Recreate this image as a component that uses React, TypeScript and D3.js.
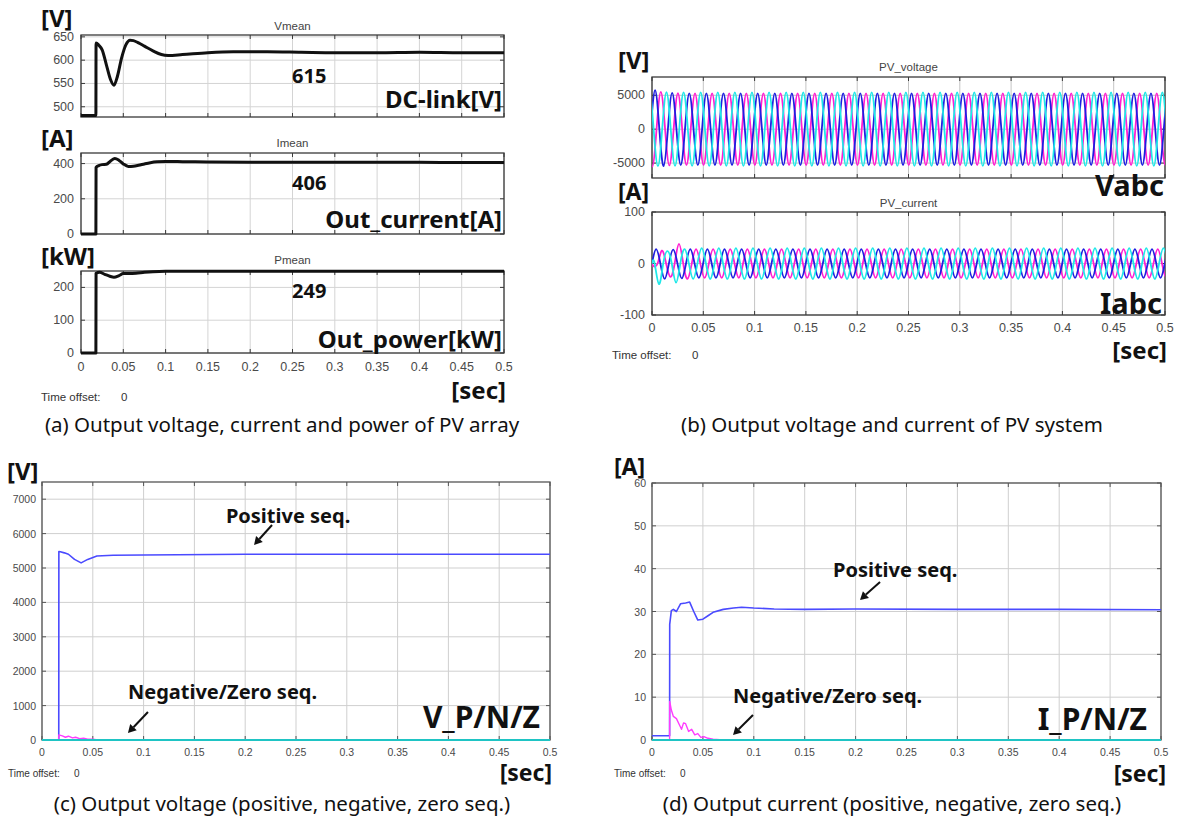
import React from "react";
import * as d3 from "d3";

// time axis shared by every scope
const timeTickLabels = ["0", "0.05", "0.1", "0.15", "0.2", "0.25", "0.3", "0.35", "0.4", "0.45", "0.5"];
const timeTicks = timeTickLabels.map(Number);

// (a) mean values of the PV array
const vmeanT = [0, 0.0176, 0.0178, 0.021, 0.025, 0.03, 0.035, 0.039, 0.043, 0.048, 0.053, 0.058, 0.062, 0.068, 0.075, 0.085, 0.095, 0.103, 0.12, 0.15, 0.18, 0.22, 0.26, 0.3, 0.35, 0.4, 0.45, 0.5];
const vmeanV = [481, 481, 637, 632, 622, 590, 558, 546, 565, 605, 633, 643, 642, 637, 630, 620, 612, 610, 612, 616, 618, 618, 617, 616, 616, 617, 616, 616];
const imeanT = [0, 0.0176, 0.0178, 0.021, 0.025, 0.03, 0.035, 0.04, 0.045, 0.05, 0.056, 0.062, 0.068, 0.075, 0.082, 0.09, 0.1, 0.12, 0.15, 0.2, 0.25, 0.3, 0.35, 0.4, 0.45, 0.5];
const imeanV = [0, 0, 378, 388, 394, 396, 415, 429, 418, 398, 384, 385, 390, 398, 405, 410, 412, 411, 409, 407, 407, 408, 407, 407, 406, 406];
const pmeanT = [0, 0.0176, 0.0178, 0.022, 0.028, 0.034, 0.039, 0.045, 0.05, 0.057, 0.065, 0.075, 0.085, 0.1, 0.2, 0.3, 0.4, 0.5];
const pmeanV = [0, 0, 243, 246, 240, 234, 231, 236, 242, 242, 243, 246, 248, 249, 249, 249, 249, 249];

// (b) three-phase waveforms: 60 Hz, first positive peak per phase, half-cycle amplitudes
const gridFreq = 60;
const phaseColors = ["#1f1fe0", "#ff1fd2", "#1fe8e8"];
const vFirstPeak = [0.003, 0.0086, 0.0141];
const vHalfAmps = [[5750, 5750, 5450, 5350], [5500, 5500, 5350, 5300], [5450, 5450, 5400]];
const vSteady = [5280, 5280, 5420];
const iFirstPeak = [0.004, 0.0096, 0.0151];
const iHalfAmps = [[28, 28, 30, 27, 29], [5, 25, 26, 38, 30], [40, 24, 37, 28, 30]];
const iSteady = [28, 28, 30];

// (c) sequence voltages
const vPosT = [0, 0.0165, 0.0166, 0.018, 0.022, 0.026, 0.032, 0.0385, 0.045, 0.054, 0.07, 0.1, 0.2, 0.3, 0.4, 0.5];
const vPosV = [0, 0, 5480, 5470, 5440, 5400, 5250, 5150, 5250, 5350, 5370, 5380, 5400, 5400, 5400, 5400];
const vNegT = [0, 0.0165, 0.0166, 0.02, 0.023, 0.026, 0.03, 0.033, 0.037, 0.041, 0.045, 0.05, 0.055, 0.5];
const vNegV = [0, 0, 150, 120, 80, 110, 60, 80, 40, 50, 25, 20, 0, 0];
const vZeroT = [0, 0.5];
const vZeroV = [0, 0];

// (d) sequence currents
const iPosT = [0, 0.0173, 0.0174, 0.019, 0.021, 0.024, 0.028, 0.033, 0.037, 0.041, 0.045, 0.05, 0.055, 0.06, 0.07, 0.08, 0.088, 0.1, 0.12, 0.15, 0.2, 0.3, 0.4, 0.5];
const iPosV = [1, 1, 27, 30.2, 30.5, 30, 31.8, 32, 32.2, 30, 28, 28.2, 29, 29.8, 30.5, 30.8, 31, 30.8, 30.6, 30.5, 30.6, 30.5, 30.5, 30.4];
const iNegT = [0, 0.0173, 0.0174, 0.019, 0.021, 0.024, 0.027, 0.029, 0.031, 0.033, 0.036, 0.039, 0.042, 0.045, 0.048, 0.051, 0.055, 0.06, 0.07, 0.5];
const iNegV = [0, 0, 9, 7, 5.5, 5, 3.5, 2.5, 4, 3.8, 2, 2.5, 1.2, 1.5, 0.6, 0.8, 0.4, 0.2, 0, 0];
const iZeroT = [0, 0.5];
const iZeroV = [0, 0];

const TICK_FONT = "'Liberation Sans', Arial, sans-serif";
const BOLD_FONT = "'Noto Sans', 'Open Sans', sans-serif";

type Series = { t: number[]; v: number[]; color: string; width: number; curve?: d3.CurveFactory };

// build the extremum/zero-crossing skeleton of one phase, drawn with a natural spline
function phasePoints(firstPeak: number, amps: number[], steady: number, fromZero: boolean) {
  const half = 1 / gridFreq / 2;
  const t: number[] = [];
  const v: number[] = [];
  if (fromZero) { t.push(0); v.push(0); }
  for (let k = -3; k <= 62; k++) {
    const tp = firstPeak + k * half;
    const a = k + 1 < 0 ? amps[0] : amps[k + 1] ?? steady;
    const sign = k % 2 === 0 ? 1 : -1;
    const tz = tp - half / 2;
    if (!fromZero || tz > 0.0005) { t.push(tz); v.push(0); }
    if (!fromZero || tp > 0.0005) { t.push(tp); v.push(sign * a); }
  }
  return { t, v };
}

type ScopeProps = {
  id: string;
  box: [number, number, number, number];
  yDomain: [number, number];
  yTicks: number[];
  series: Series[];
  title?: string;
  titleY?: number;
  xLabels?: boolean;
  xLabelDy: number;
  tickSize: number;
  yLabelGap: number;
  grid: string;
  border: string;
  annotate?: (x: d3.ScaleLinear<number, number>, y: d3.ScaleLinear<number, number>) => React.ReactNode;
};

function Scope(p: ScopeProps) {
  const [x0, y0, x1, y1] = p.box;
  const x = d3.scaleLinear().domain([0, 0.5]).range([x0, x1]);
  const y = d3.scaleLinear().domain(p.yDomain).range([y1, y0]);
  const path = (s: Series) =>
    d3.line<number>().x((_, i) => x(s.t[i])).y((d) => y(d)).curve(s.curve ?? d3.curveLinear)(s.v) || "";
  return (
    <g>
      <defs>
        <clipPath id={p.id}>
          <rect x={x0} y={y0 - 2} width={x1 - x0} height={y1 - y0 + 4} />
        </clipPath>
      </defs>
      <rect x={x0} y={y0} width={x1 - x0} height={y1 - y0} fill="#fff" />
      {timeTicks.map((t) => (
        <line key={"gx" + t} x1={x(t)} x2={x(t)} y1={y0} y2={y1} stroke={p.grid} strokeWidth={1} />
      ))}
      {p.yTicks.map((v) => (
        <line key={"gy" + v} x1={x0} x2={x1} y1={y(v)} y2={y(v)} stroke={p.grid} strokeWidth={1} />
      ))}
      {timeTicks.map((t) => (
        <g key={"tx" + t} stroke={p.border} strokeWidth={1}>
          <line x1={x(t)} x2={x(t)} y1={y1} y2={y1 - 4} />
          <line x1={x(t)} x2={x(t)} y1={y0} y2={y0 + 4} />
        </g>
      ))}
      {p.yTicks.map((v) => (
        <g key={"ty" + v} stroke={p.border} strokeWidth={1}>
          <line x1={x0} x2={x0 + 4} y1={y(v)} y2={y(v)} />
          <line x1={x1} x2={x1 - 4} y1={y(v)} y2={y(v)} />
        </g>
      ))}
      <rect x={x0} y={y0} width={x1 - x0} height={y1 - y0} fill="none" stroke={p.border} strokeWidth={1.3} />
      <g clipPath={`url(#${p.id})`}>
        {p.series.map((s, i) => (
          <path key={i} d={path(s)} fill="none" stroke={s.color} strokeWidth={s.width} strokeLinejoin="round" />
        ))}
      </g>
      {p.yTicks.map((v) => (
        <text key={"ly" + v} x={x0 - p.yLabelGap} y={y(v)} textAnchor="end" dominantBaseline="central"
          fontFamily={TICK_FONT} fontSize={p.tickSize} fill="#4a4a4a">{String(v)}</text>
      ))}
      {p.xLabels &&
        timeTicks.map((t, i) => (
          <text key={"lx" + t} x={x(t)} y={y1 + p.xLabelDy} textAnchor="middle" dominantBaseline="central"
            fontFamily={TICK_FONT} fontSize={p.tickSize} fill="#4a4a4a">{timeTickLabels[i]}</text>
        ))}
      {p.title && (
        <text x={(x0 + x1) / 2} y={p.titleY} textAnchor="middle" dominantBaseline="central"
          fontFamily={TICK_FONT} fontSize={11.5} fill="#444">{p.title}</text>
      )}
      {p.annotate && p.annotate(x, y)}
    </g>
  );
}

function Bold({ x, y, size, anchor = "start", children }: { x: number; y: number; size: number; anchor?: string; children: React.ReactNode }) {
  return (
    <text x={x} y={y} fontFamily={BOLD_FONT} fontWeight={700} fontSize={size} fill="#111"
      textAnchor={anchor} dominantBaseline="central">{children}</text>
  );
}

function Caption({ x, y, children }: { x: number; y: number; children: React.ReactNode }) {
  return (
    <text x={x} y={y} fontFamily={BOLD_FONT} fontSize={20.5} fill="#111" textAnchor="middle" dominantBaseline="central">
      {children}
    </text>
  );
}

function TimeOffset({ x, y, size, gap }: { x: number; y: number; size: number; gap: number }) {
  return (
    <g fontFamily={TICK_FONT} fontSize={size} fill="#333">
      <text x={x} y={y} dominantBaseline="central">Time offset:</text>
      <text x={x + gap} y={y} dominantBaseline="central">0</text>
    </g>
  );
}

function Arrow({ x1, y1, x2, y2 }: { x1: number; y1: number; x2: number; y2: number }) {
  const ang = Math.atan2(y2 - y1, x2 - x1);
  const hl = 8;
  const hw = 4.5;
  const bx = x2 - hl * Math.cos(ang);
  const by = y2 - hl * Math.sin(ang);
  const px = -Math.sin(ang) * hw;
  const py = Math.cos(ang) * hw;
  return (
    <g>
      <line x1={x1} y1={y1} x2={bx} y2={by} stroke="#111" strokeWidth={2} />
      <polygon points={`${x2},${y2} ${bx + px},${by + py} ${bx - px},${by - py}`} fill="#111" />
    </g>
  );
}

export default function App() {
  const black = "#111";
  const aCommon = { grid: "#d4d4d4", border: "#3a3a3a", tickSize: 12.5, yLabelGap: 7, xLabelDy: 14 };
  const bCommon = { grid: "#c4c4c4", border: "#3a3a3a", tickSize: 12.5, yLabelGap: 7, xLabelDy: 13 };
  const cdCommon = { grid: "#cfcfcf", border: "#555", tickSize: 10.5, yLabelGap: 6, xLabelDy: 12 };

  const vWaves: Series[] = [1, 0, 2].map((k) => ({
    ...phasePoints(vFirstPeak[k], vHalfAmps[k], vSteady[k], false),
    color: phaseColors[k], width: 1.8, curve: d3.curveNatural,
  }));
  const iWaves: Series[] = [1, 0, 2].map((k) => ({
    ...phasePoints(iFirstPeak[k], iHalfAmps[k], iSteady[k], true),
    color: phaseColors[k], width: 1.8, curve: d3.curveNatural,
  }));

  const seqBlue = "#4a4aff";
  const seqMag = "#ff3cff";
  const seqCyan = "#1fc4c4";

  return (
    <div style={{ position: "absolute", left: 0, top: 0 }}>
      <svg width={1184} height={821} viewBox="0 0 1184 821" style={{ display: "block", background: "#fff" }}>
        {/* ---------- (a) ---------- */}
        <Bold x={41} y={17} size={24}>[V]</Bold>
        <Scope id="va" box={[81, 35, 504, 117]} yDomain={[478, 654]} yTicks={[500, 550, 600, 650]} title="Vmean" titleY={26}
          series={[{ t: vmeanT, v: vmeanV, color: black, width: 3, curve: d3.curveMonotoneX }]} {...aCommon} />
        <Bold x={292} y={75} size={20}>615</Bold>
        <Bold x={502} y={98} size={24} anchor="end">DC-link[V]</Bold>

        <Bold x={41} y={137} size={24}>[A]</Bold>
        <Scope id="ia" box={[81, 153, 504, 234]} yDomain={[0, 460]} yTicks={[0, 200, 400]} title="Imean" titleY={143}
          series={[{ t: imeanT, v: imeanV, color: black, width: 3, curve: d3.curveMonotoneX }]} {...aCommon} />
        <Bold x={292} y={182} size={20}>406</Bold>
        <Bold x={502} y={218} size={24} anchor="end">Out_current[A]</Bold>

        <Bold x={41} y={255} size={24}>[kW]</Bold>
        <Scope id="pa" box={[81, 271, 504, 353]} yDomain={[0, 250]} yTicks={[0, 100, 200]} title="Pmean" titleY={260}
          series={[{ t: pmeanT, v: pmeanV, color: black, width: 3, curve: d3.curveMonotoneX }]} xLabels {...aCommon} />
        <Bold x={292} y={290} size={20}>249</Bold>
        <Bold x={502} y={338} size={24} anchor="end">Out_power[kW]</Bold>
        <Bold x={506} y={389} size={24} anchor="end">[sec]</Bold>
        <TimeOffset x={41} y={397} size={11.5} gap={80} />
        <Caption x={282} y={424}>(a) Output voltage, current and power of PV array</Caption>

        {/* ---------- (b) ---------- */}
        <Bold x={618} y={59} size={24}>[V]</Bold>
        <Scope id="vb" box={[652, 77, 1165, 178]} yDomain={[-7200, 7700]} yTicks={[-5000, 0, 5000]} title="PV_voltage" titleY={67}
          series={vWaves} {...bCommon} />
        <Bold x={1164} y={184} size={29} anchor="end">Vabc</Bold>

        <Bold x={618} y={191} size={23}>[A]</Bold>
        <Scope id="ib" box={[652, 212, 1165, 315]} yDomain={[-100, 100]} yTicks={[-100, 0, 100]} title="PV_current" titleY={203}
          series={iWaves} xLabels {...bCommon} />
        <Bold x={1162} y={302} size={29} anchor="end">Iabc</Bold>
        <Bold x={1167} y={349} size={24} anchor="end">[sec]</Bold>
        <TimeOffset x={612} y={355} size={11.5} gap={80} />
        <Caption x={892} y={424}>(b) Output voltage and current of PV system</Caption>

        {/* ---------- (c) ---------- */}
        <Bold x={7} y={470} size={24}>[V]</Bold>
        <Scope id="vc" box={[42, 482, 550, 740]} yDomain={[0, 7500]} yTicks={[0, 1000, 2000, 3000, 4000, 5000, 6000, 7000]}
          series={[
            { t: vPosT, v: vPosV, color: seqBlue, width: 1.6 },
            { t: vNegT, v: vNegV, color: seqMag, width: 1.4 },
            { t: vZeroT, v: vZeroV, color: seqCyan, width: 2.2 },
          ]}
          xLabels {...cdCommon}
          annotate={(x, y) => (
            <g>
              <Bold x={x(0.181)} y={y(6540)} size={20}>Positive seq.</Bold>
              <Arrow x1={x(0.2264)} y1={y(6250)} x2={x(0.2087)} y2={y(5669)} />
              <Bold x={x(0.0846)} y={y(1424)} size={20}>Negative/Zero seq.</Bold>
              <Arrow x1={x(0.1043)} y1={y(814)} x2={x(0.0846)} y2={y(203)} />
            </g>
          )} />
        <Bold x={540} y={716} size={30} anchor="end">V_P/N/Z</Bold>
        <Bold x={552} y={772} size={23} anchor="end">[sec]</Bold>
        <TimeOffset x={8} y={773} size={10} gap={66} />
        <Caption x={282} y={803}>(c) Output voltage (positive, negative, zero seq.)</Caption>

        {/* ---------- (d) ---------- */}
        <Bold x={614} y={466} size={23}>[A]</Bold>
        <Scope id="id" box={[652, 483, 1161, 740]} yDomain={[0, 60]} yTicks={[0, 10, 20, 30, 40, 50, 60]}
          series={[
            { t: iPosT, v: iPosV, color: seqBlue, width: 1.6 },
            { t: iNegT, v: iNegV, color: seqMag, width: 1.4 },
            { t: iZeroT, v: iZeroV, color: seqCyan, width: 2.2 },
          ]}
          xLabels {...cdCommon}
          annotate={(x, y) => (
            <g>
              <Bold x={x(0.1778)} y={y(39.7)} size={20}>Positive seq.</Bold>
              <Arrow x1={x(0.224)} y1={y(36.9)} x2={x(0.2043)} y2={y(32.7)} />
              <Bold x={x(0.0796)} y={y(10.5)} size={20}>Negative/Zero seq.</Bold>
              <Arrow x1={x(0.0992)} y1={y(5.84)} x2={x(0.0796)} y2={y(1.17)} />
            </g>
          )} />
        <Bold x={1147} y={718} size={30} anchor="end">I_P/N/Z</Bold>
        <Bold x={1166} y={773} size={23} anchor="end">[sec]</Bold>
        <TimeOffset x={614} y={773} size={10} gap={66} />
        <Caption x={892} y={803}>(d) Output current (positive, negative, zero seq.)</Caption>
      </svg>
    </div>
  );
}
